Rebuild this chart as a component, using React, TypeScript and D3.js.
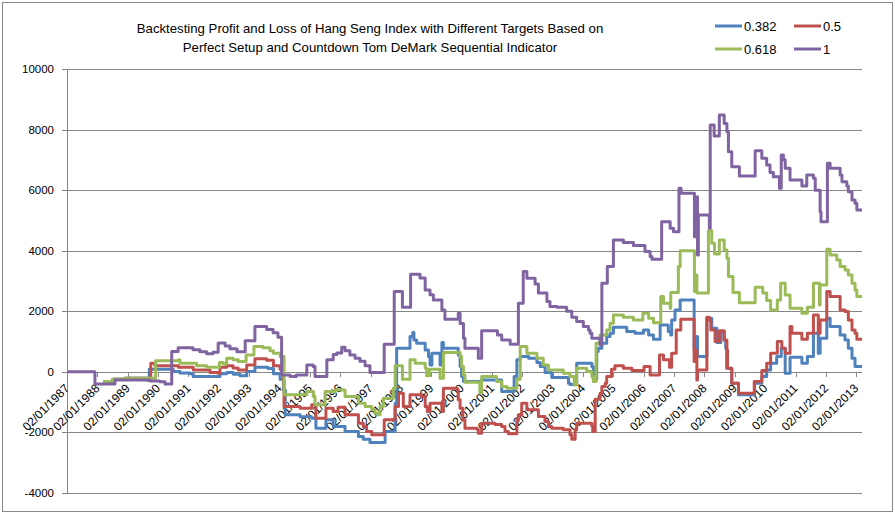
import React from 'react';
import * as d3 from 'd3';

// step series: [decimal year, profit/loss] — value holds until next point
const s0382: [number, number][] = [
  [1988.2, -320], [1988.51, -240], [1988.91, -210], [1989.63, -265], [1989.71, 90],
  [1990.5, 10], [1990.72, -40], [1991.05, -65], [1991.16, -155], [1992.04, -65],
  [1992.26, -20], [1992.48, -80], [1992.7, -130], [1992.92, 10], [1993.19, 155],
  [1993.62, 110], [1993.8, -65], [1994.02, -240], [1994.13, -595], [1994.19, -1420],
  [1994.68, -1480], [1995.06, -1530], [1995.2, -1860], [1995.53, -1585], [1995.77, -1805],
  [1996.16, -1970], [1996.6, -2135], [1996.76, -2225], [1996.98, -2335], [1997.48, -1970],
  [1997.81, -1035], [1997.86, 780], [1998.3, 1165], [1998.39, 1300], [1998.43, 1055],
  [1998.52, 945], [1998.8, 725], [1998.91, 505], [1998.96, 230], [1999.02, 615],
  [1999.29, 230], [1999.35, 970], [1999.4, 780], [1999.89, 560], [1999.95, 175],
  [2000.0, -155], [2000.06, -320], [2000.66, -265], [2001.32, -650], [2001.73, -155],
  [2001.82, 400], [2001.93, 505], [2002.21, 450], [2002.48, 310], [2002.59, 175],
  [2002.75, -20], [2002.97, -185], [2003.52, -375], [2003.57, -420], [2003.79, 285],
  [2004.29, 175], [2004.34, -240], [2004.45, 670], [2004.5, 780], [2004.62, 945],
  [2004.78, 1165], [2004.89, 1275], [2005.0, 1475], [2005.44, 1330], [2005.71, 1275],
  [2005.99, 1385], [2006.16, 1220], [2006.32, 1080], [2006.54, 1550], [2006.81, 1330],
  [2006.89, 1220], [2006.92, 1715], [2007.03, 2045], [2007.2, 2375], [2007.66, 725],
  [2007.72, 1165], [2007.77, 505], [2008.08, 1770], [2008.24, 1440], [2008.41, 970],
  [2008.54, 1330], [2008.65, 1055], [2008.7, 780], [2008.73, 120], [2008.9, -375],
  [2009.12, -760], [2009.65, -375], [2009.89, -155], [2010.05, 65], [2010.18, 285],
  [2010.38, 505], [2010.53, 780], [2010.66, -45], [2010.82, 480], [2011.21, 285],
  [2011.39, 505], [2011.59, 1275], [2011.75, 615], [2011.81, 1110], [2012.03, 1770],
  [2012.14, 1495], [2012.47, 1220], [2012.63, 1055], [2012.74, 780], [2012.86, 450],
  [2012.96, 175], [2013.19, 175],
];

const s05: [number, number][] = [
  [1988.2, -320], [1988.51, -240], [1988.91, -210], [1989.68, -265], [1989.76, 285],
  [1989.9, 200], [1990.67, 155], [1991.16, 65], [1991.71, -20], [1991.98, -45],
  [1992.04, 155], [1992.26, 200], [1992.47, 130], [1992.64, 65], [1992.92, 230],
  [1993.19, 430], [1993.58, 380], [1993.8, 200], [1994.02, 90], [1994.13, -265],
  [1994.15, -1145], [1994.68, -1200], [1995.06, -1090], [1995.2, -1530], [1995.53, -1200],
  [1995.77, -1310], [1995.93, -1165], [1996.16, -1420], [1996.6, -1695], [1996.76, -1805],
  [1996.87, -1970], [1997.04, -2080], [1997.45, -1585], [1997.81, -1145], [1997.92, -705],
  [1998.08, -1145], [1998.3, -760], [1998.68, -815], [1998.8, -1145], [1998.87, -1310],
  [1998.96, -1035], [1999.35, -1310], [1999.4, -540], [1999.86, -600], [1999.89, -925],
  [1999.95, -1200], [2000.04, -1585], [2000.11, -1860], [2000.5, -1895], [2000.55, -2025],
  [2000.66, -1695], [2001.1, -1740], [2001.32, -1805], [2001.43, -1970], [2001.54, -2045],
  [2001.82, -1605], [2001.87, -1420], [2001.98, -1035], [2002.15, -1255], [2002.53, -1475],
  [2002.75, -1640], [2002.86, -1805], [2002.97, -1860], [2003.35, -1915], [2003.57, -2080],
  [2003.63, -2225], [2003.74, -1915], [2003.79, -1695], [2004.29, -1785], [2004.32, -1970],
  [2004.4, -905], [2004.56, -705], [2004.62, -485], [2004.73, -375], [2004.78, -155],
  [2004.94, 90], [2005.05, 200], [2005.33, 120], [2005.61, 45], [2006.01, 175],
  [2006.21, -100], [2006.52, 560], [2006.65, 400], [2006.85, 155], [2006.92, 615],
  [2007.07, 1385], [2007.22, 1740], [2007.66, 340], [2007.69, 725], [2007.75, -265],
  [2007.77, 65], [2008.08, 1800], [2008.16, 1715], [2008.21, 1385], [2008.35, 1000],
  [2008.49, 1360], [2008.65, 1055], [2008.74, 725], [2008.76, 120], [2008.9, -375],
  [2009.12, -705], [2009.64, -320], [2009.89, 45], [2010.05, 285], [2010.18, 615],
  [2010.4, 1000], [2010.55, 780], [2010.66, 615], [2010.82, 1495], [2010.88, 1275],
  [2011.21, 1080], [2011.39, 1275], [2011.59, 1880], [2011.75, 1275], [2011.81, 1715],
  [2012.03, 2650], [2012.14, 2485], [2012.47, 2045], [2012.63, 1990], [2012.74, 1715],
  [2012.86, 1385], [2012.96, 1275], [2013.02, 1080], [2013.19, 1080],
];

const s0618: [number, number][] = [
  [1988.2, -320], [1988.51, -240], [1988.91, -210], [1989.92, 363], [1990.67, 400],
  [1990.72, 285], [1991.27, 200], [1991.6, 155], [1992.02, 310], [1992.15, 260],
  [1992.26, 450], [1992.47, 400], [1992.64, 340], [1992.9, 560], [1993.16, 835],
  [1993.46, 800], [1993.69, 700], [1993.8, 615], [1994.02, 505], [1994.15, -760],
  [1994.9, -650], [1995.12, -815], [1995.17, -1090], [1995.5, -650], [1995.83, -600],
  [1996.16, -815], [1996.6, -1035], [1996.82, -1145], [1997.04, -1255], [1997.15, -1365],
  [1997.26, -1420], [1997.31, -1140], [1997.42, -870], [1997.75, -540], [1997.81, 200],
  [1998.05, -240], [1998.3, 400], [1998.47, 285], [1998.8, 120], [1998.85, -130],
  [1998.94, 90], [1999.29, -210], [1999.4, 640], [1999.95, 505], [2000.0, 175],
  [2000.06, -100], [2000.11, -340], [2000.6, -680], [2000.66, -155], [2001.15, -320],
  [2001.32, -485], [2001.49, -540], [2001.82, -240], [2001.93, 835], [2002.15, 615],
  [2002.48, 450], [2002.69, 230], [2002.86, 65], [2003.35, -45], [2003.57, -150],
  [2003.71, -430], [2003.79, 120], [2004.12, 10], [2004.29, -155], [2004.34, -320],
  [2004.43, 945], [2004.56, 1220], [2004.78, 1385], [2004.89, 1605], [2005.0, 1880],
  [2005.33, 1800], [2005.66, 1715], [2005.97, 1935], [2006.16, 1770], [2006.32, 1625],
  [2006.56, 2485], [2006.65, 2265], [2006.87, 2100], [2006.89, 2620], [2007.14, 3475],
  [2007.2, 4000], [2007.67, 2650], [2007.7, 3200], [2007.75, 2600], [2008.13, 4660],
  [2008.24, 4245], [2008.33, 3895], [2008.49, 4355], [2008.65, 4025], [2008.74, 3750],
  [2008.79, 3145], [2008.94, 2620], [2009.15, 2285], [2009.67, 2795], [2009.92, 2600],
  [2010.05, 2355], [2010.18, 2045], [2010.4, 2375], [2010.51, 2925], [2010.66, 2540],
  [2010.82, 2100], [2011.21, 1935], [2011.39, 2135], [2011.59, 2925], [2011.79, 2210],
  [2011.81, 2870], [2012.03, 4050], [2012.14, 3860], [2012.36, 3695], [2012.47, 3475],
  [2012.63, 3365], [2012.74, 3200], [2012.86, 2925], [2012.96, 2705], [2013.02, 2485],
  [2013.19, 2485],
];

const s1: [number, number][] = [
  [1987.0, 0], [1987.92, -400], [1988.58, -270], [1989.73, -300], [1990.06, -330],
  [1990.23, -400], [1990.45, 670], [1990.66, 800], [1991.15, 730], [1991.38, 660],
  [1991.6, 600], [1991.81, 650], [1991.98, 950], [1992.21, 850], [1992.37, 760],
  [1992.6, 660], [1992.87, 1030], [1993.19, 1495], [1993.58, 1400], [1993.79, 1290],
  [1993.95, 1140], [1994.07, -100], [1994.35, -150], [1994.55, -100], [1994.9, 230],
  [1995.11, 180], [1995.17, -155], [1995.56, 400], [1995.77, 570], [1995.89, 620],
  [1996.05, 815], [1996.16, 700], [1996.32, 560], [1996.49, 450], [1996.65, 350],
  [1996.82, 200], [1996.98, -20], [1997.45, 910], [1997.78, 2650], [1998.05, 2135],
  [1998.32, 3220], [1998.63, 3100], [1998.8, 2700], [1998.96, 2550], [1999.07, 2375],
  [1999.35, 2045], [1999.45, 1740], [1999.89, 1935], [1999.95, 1600], [2000.06, 1110],
  [2000.11, 780], [2000.55, 450], [2000.66, 1360], [2001.18, 1220], [2001.32, 1055],
  [2001.6, 910], [2001.87, 2265], [2002.03, 3310], [2002.15, 3090], [2002.42, 2900],
  [2002.53, 2600], [2002.81, 2320], [2002.91, 2155], [2003.14, 2130], [2003.46, 2000],
  [2003.63, 1800], [2003.79, 1660], [2004.01, 1500], [2004.18, 1385], [2004.23, 1275],
  [2004.29, 1110], [2004.56, 890], [2004.62, 2925], [2004.8, 3475], [2005.0, 4355],
  [2005.33, 4270], [2005.66, 4170], [2006.04, 3970], [2006.21, 3805], [2006.27, 3720],
  [2006.59, 4960], [2006.87, 4740], [2006.98, 4630], [2007.16, 6060], [2007.23, 5900],
  [2007.67, 4465], [2007.75, 5785], [2007.77, 3860], [2007.8, 5180], [2008.16, 4740],
  [2008.19, 8150], [2008.32, 7790], [2008.49, 8480], [2008.65, 8200], [2008.74, 7930],
  [2008.79, 7270], [2008.9, 6775], [2009.15, 6470], [2009.67, 7300], [2009.89, 7050],
  [2010.05, 6830], [2010.16, 6580], [2010.27, 6445], [2010.47, 6060], [2010.53, 7160],
  [2010.6, 7000], [2010.66, 6720], [2010.82, 6335], [2011.21, 6140], [2011.37, 6500],
  [2011.59, 6390], [2011.65, 6000], [2011.81, 5290], [2011.84, 4960], [2012.05, 6885],
  [2012.14, 6720], [2012.47, 6500], [2012.53, 6280], [2012.69, 6140], [2012.74, 5950],
  [2012.86, 5675], [2012.96, 5565], [2013.02, 5345], [2013.19, 5345],
];

const seriesNames = ['0.382', '0.5', '0.618', '1'];
const seriesColors = ['#4F81BD', '#C0504D', '#9BBB59', '#8064A2'];
const allSeries = [s0382, s05, s0618, s1];

const yTicks = [-4000, -2000, 0, 2000, 4000, 6000, 8000, 10000];
const tickYears = [
  1987, 1988, 1989, 1990, 1991, 1992, 1993, 1994, 1995, 1996, 1997, 1998, 1999,
  2000, 2001, 2002, 2003, 2004, 2005, 2006, 2007, 2008, 2009, 2010, 2011, 2012, 2013,
];
const titleLines = [
  'Backtesting Profit and Loss of Hang Seng Index with Different Targets Based on',
  'Perfect Setup and Countdown Tom DeMark Sequential Indicator',
];

const W = 895;
const H = 514;
const margin = { top: 69, right: 33, bottom: 21, left: 67 };
const font = "'Liberation Sans', Arial, sans-serif";

const App: React.FC = () => {
  const allPts = allSeries.flat();
  const x = d3
    .scaleLinear()
    .domain(d3.extent(allPts, (d) => d[0]) as [number, number])
    .range([margin.left, W - margin.right]);
  const y = d3
    .scaleLinear()
    .domain([-4000, 10000])
    .range([H - margin.bottom, margin.top]);

  const line = d3
    .line<[number, number]>()
    .x((d) => x(d[0]))
    .y((d) => y(d[1]))
    .curve(d3.curveStepAfter);

  const grid = '#868686';

  return (
    <>
      <style>{'body{margin:0}'}</style>
      <svg width={W} height={H} style={{ display: 'block', fontFamily: font }}>
        <rect x={0} y={0} width={W} height={H} fill="#fff" />
        <rect x={2.5} y={2.5} width={W - 5} height={H - 5} fill="none" stroke="#888" strokeWidth={1} />

        {/* title */}
        {titleLines.map((t, i) => (
          <text key={t} x={370} y={33 + i * 18.5} textAnchor="middle" fontSize={13.2} fill="#000">
            {t}
          </text>
        ))}

        {/* gridlines + y axis */}
        {yTicks.map((v) => (
          <g key={v}>
            <line x1={margin.left - 5} x2={W - margin.right} y1={Math.round(y(v)) + 0.5} y2={Math.round(y(v)) + 0.5} stroke={grid} />
            <text x={54} y={y(v) + 4} textAnchor="end" fontSize={11.5} fill="#000">
              {v}
            </text>
          </g>
        ))}
        <line x1={margin.left + 0.5} x2={margin.left + 0.5} y1={y(10000)} y2={y(-4000)} stroke={grid} />

        {/* x axis ticks + labels at 0 line */}
        {tickYears.map((yr) => {
          const tx = Math.round(x(yr)) + 0.5;
          const y0 = Math.round(y(0));
          return (
            <g key={yr}>
              <line x1={tx} x2={tx} y1={y0} y2={y0 + 5} stroke={grid} />
              <text
                transform={`translate(${x(yr) + 3},${y0 + 17}) rotate(-45)`}
                textAnchor="end"
                fontSize={12}
                fill="#000"
              >
                {`02/01/${yr}`}
              </text>
            </g>
          );
        })}

        {/* series */}
        {allSeries.map((s, i) => (
          <path
            key={seriesNames[i]}
            d={line(s) ?? ''}
            fill="none"
            stroke={seriesColors[i]}
            strokeWidth={3}
            strokeLinejoin="round"
          />
        ))}

        {/* legend */}
        {seriesNames.map((n, i) => {
          const col = i % 2;
          const row = Math.floor(i / 2);
          const lx = 715 + col * 79;
          const ly = 26 + row * 23;
          return (
            <g key={n}>
              <line x1={lx} x2={lx + 27} y1={ly} y2={ly} stroke={seriesColors[i]} strokeWidth={3} />
              <text x={lx + 29} y={ly + 4.5} fontSize={13} fill="#000">
                {n}
              </text>
            </g>
          );
        })}
      </svg>
    </>
  );
};

export default App;
